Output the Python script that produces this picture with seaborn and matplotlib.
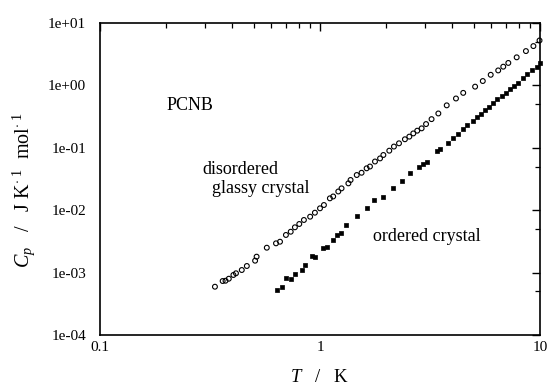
import numpy as np
import pandas as pd
import matplotlib
matplotlib.use("Agg")
import matplotlib.pyplot as plt
from matplotlib.ticker import FixedLocator, LogLocator, NullFormatter
import seaborn as sns

# disordered glassy crystal (open circles)
T_glassy = [0.333, 0.361, 0.372, 0.385, 0.404, 0.415, 0.441, 0.465, 0.507, 0.515,
            0.573, 0.631, 0.658, 0.700, 0.736, 0.769, 0.805, 0.845, 0.902, 0.948,
            1.000, 1.042, 1.109, 1.148, 1.211, 1.253, 1.346, 1.377, 1.469, 1.545,
            1.629, 1.687, 1.778, 1.875, 1.941, 2.065, 2.168, 2.286, 2.432, 2.547,
            2.655, 2.767, 2.897, 3.034, 3.214, 3.451, 3.767, 4.150, 4.477, 5.070,
            5.495, 5.970, 6.457, 6.808, 7.178, 7.834, 8.630, 9.333, 9.950]
Cp_glassy = [5.94e-4, 7.33e-4, 7.41e-4, 7.98e-4, 9.16e-4, 9.75e-4, 1.10e-3, 1.276e-3, 1.552e-3, 1.80e-3,
             2.506e-3, 2.944e-3, 3.126e-3, 4.01e-3, 4.52e-3, 5.32e-3, 6.01e-3, 6.97e-3, 7.87e-3, 9.12e-3,
             1.072e-2, 1.211e-2, 1.549e-2, 1.66e-2, 1.995e-2, 2.239e-2, 2.692e-2, 3.048e-2, 3.664e-2, 3.981e-2,
             4.69e-2, 5.01e-2, 6.03e-2, 6.76e-2, 7.67e-2, 8.99e-2, 0.1047, 0.118, 0.137, 0.151,
             0.170, 0.188, 0.205, 0.240, 0.288, 0.355, 0.479, 0.617, 0.759, 0.955,
             1.175, 1.479, 1.738, 1.995, 2.291, 2.818, 3.548, 4.266, 5.248]

# ordered crystal (filled squares)
T_ordered = [0.640, 0.670, 0.700, 0.736, 0.769, 0.826, 0.855, 0.916, 0.948, 1.035,
             1.072, 1.140, 1.191, 1.242, 1.312, 1.479, 1.629, 1.758, 1.941, 2.138,
             2.350, 2.564, 2.831, 2.951, 3.076, 3.388, 3.508, 3.828, 4.036, 4.256,
             4.467, 4.645, 4.943, 5.152, 5.370, 5.623, 5.888, 6.138, 6.397, 6.699,
             6.998, 7.311, 7.621, 7.962, 8.337, 8.750, 9.162, 9.660, 9.950]
Cp_ordered = [5.26e-4, 5.81e-4, 8.11e-4, 7.82e-4, 9.51e-4, 1.10e-3, 1.324e-3, 1.845e-3, 1.758e-3, 2.449e-3,
              2.60e-3, 3.327e-3, 4.01e-3, 4.27e-3, 5.79e-3, 8.07e-3, 1.072e-2, 1.455e-2, 1.644e-2, 2.239e-2,
              2.972e-2, 3.89e-2, 4.90e-2, 5.50e-2, 6.03e-2, 8.99e-2, 9.55e-2, 0.120, 0.141, 0.166,
              0.200, 0.232, 0.269, 0.309, 0.348, 0.404, 0.447, 0.528, 0.598, 0.676,
              0.764, 0.865, 0.977, 1.104, 1.318, 1.514, 1.766, 1.995, 2.259]

y_ticks = [1e-4, 1e-3, 1e-2, 1e-1, 1e0, 1e1]
y_tick_labels = ["1e-04", "1e-03", "1e-02", "1e-01", "1e+00", "1e+01"]
x_ticks = [0.1, 1, 10]
x_tick_labels = ["0.1", "1", "10"]

sns.set_theme(style="white")
plt.rcParams["font.family"] = ["Liberation Serif", "DejaVu Serif"]
plt.rcParams["mathtext.fontset"] = "custom"
plt.rcParams["mathtext.rm"] = "Liberation Serif"
plt.rcParams["mathtext.it"] = "Liberation Serif:italic"

fig = plt.figure(figsize=(5.51, 3.92), dpi=100)
ax = fig.add_axes([100 / 551, 1 - 335 / 392, 440 / 551, 312 / 392])

df_g = pd.DataFrame({"T": T_glassy, "Cp": Cp_glassy})
df_o = pd.DataFrame({"T": T_ordered, "Cp": Cp_ordered})

sns.scatterplot(data=df_g, x="T", y="Cp", ax=ax, marker="o", s=12,
                facecolor="none", edgecolor="black", linewidth=0.8, clip_on=False)
sns.scatterplot(data=df_o, x="T", y="Cp", ax=ax, marker="s", s=12,
                color="black", edgecolor="black", linewidth=0.5, clip_on=False)

ax.set_xscale("log")
ax.set_yscale("log")
ax.set_xlim(0.1, 10)
ax.set_ylim(1e-4, 1e1)

ax.xaxis.set_major_locator(FixedLocator(x_ticks))
ax.set_xticklabels(x_tick_labels)
ax.xaxis.set_minor_locator(LogLocator(base=10, subs=np.arange(2, 10)))
ax.xaxis.set_minor_formatter(NullFormatter())
ax.yaxis.set_major_locator(FixedLocator(y_ticks))
ax.set_yticklabels(y_tick_labels)
ax.yaxis.set_minor_locator(LogLocator(base=10, subs=[5.0]))
ax.yaxis.set_minor_formatter(NullFormatter())

ax.tick_params(which="both", direction="in", top=True, right=True, colors="black",
               labelsize=11)
ax.tick_params(which="major", length=6, width=1.0)
ax.tick_params(which="minor", length=3.5, width=0.9)
ax.tick_params(axis="x", pad=4)
ax.tick_params(axis="y", pad=10)

for sp in ax.spines.values():
    sp.set_color("black")
    sp.set_linewidth(1.2)

ax.set_xlabel(r"$T$   /   K", fontsize=13.5, labelpad=11, color="black")
ax.set_ylabel(r"$C_p$   /   J K$^{\cdot\ 1}$  mol$^{\cdot\ 1}$", fontsize=14.5,
              color="black")
ax.yaxis.set_label_coords(-0.143, 0.465)

ax.text(0.152, 0.735, "PCNB", transform=ax.transAxes, fontsize=13, color="black",
        ha="left", va="center")
ax.text(0.232, 0.53, "disordered", transform=ax.transAxes, fontsize=13, color="black",
        ha="left", va="center")
ax.text(0.254, 0.47, "glassy crystal", transform=ax.transAxes, fontsize=13, color="black",
        ha="left", va="center")
ax.text(0.62, 0.315, "ordered crystal", transform=ax.transAxes, fontsize=13, color="black",
        ha="left", va="center")

fig.savefig("out.png", dpi=100)
